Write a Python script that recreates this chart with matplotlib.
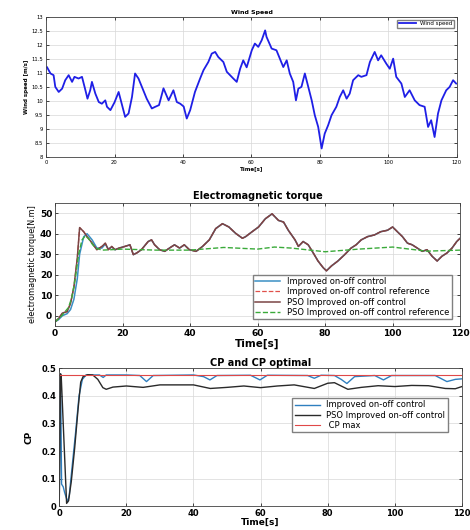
import numpy as np
import matplotlib
matplotlib.use('Agg')
import matplotlib.pyplot as plt

# ---- wind speed
t_wind = [0.3, 1.3, 2.2, 2.7, 3.7, 4.7, 5.6, 6.6, 7.6, 8.3, 9.5, 10.5, 11.5, 12.1, 12.9, 13.4,
          14.4, 15.4, 16.3, 17.3, 17.8, 18.8, 20.0, 21.2, 23.1, 24.1, 25.1, 26.0, 27.0, 28.0,
          29.4, 30.9, 31.9, 33.0, 34.3, 35.8, 37.2, 38.2, 39.2, 40.2, 41.1, 42.1, 43.5, 45.0,
          46.0, 47.4, 48.4, 49.4, 50.3, 51.8, 52.8, 54.7, 55.7, 56.7, 57.6, 58.6, 60.1, 61.0,
          62.0, 63.0, 64.0, 64.4, 65.9, 67.3, 68.3, 69.3, 70.3, 71.2, 72.2, 73.0, 73.7, 74.6,
          75.6, 76.6, 77.6, 78.5, 79.5, 80.5, 81.4, 82.4, 83.4, 84.8, 85.8, 86.8, 87.8, 88.7,
          89.7, 91.2, 92.1, 93.6, 94.6, 96.0, 97.0, 97.9, 99.4, 100.4, 101.4, 102.3, 103.8,
          104.8, 106.2, 107.7, 109.1, 110.6, 111.6, 112.5, 113.5, 114.5, 115.5, 116.9, 117.9,
          118.9, 119.8]
v_wind = [11.2, 10.98, 10.92, 10.5, 10.32, 10.44, 10.74, 10.92, 10.68, 10.86, 10.8, 10.86,
          10.38, 10.08, 10.38, 10.68, 10.26, 9.96, 9.9, 10.02, 9.79, 9.67, 9.95, 10.32, 9.43,
          9.55, 10.14, 10.98, 10.8, 10.5, 10.08, 9.73, 9.79, 9.85, 10.45, 10.02, 10.38, 9.96,
          9.9, 9.8, 9.37, 9.67, 10.32, 10.8, 11.1, 11.39, 11.69, 11.75, 11.57, 11.39, 11.04,
          10.8, 10.68, 11.15, 11.45, 11.2, 11.81, 12.05, 11.93, 12.17, 12.52, 12.29, 11.87,
          11.81, 11.51, 11.21, 11.45, 10.98, 10.68, 10.02, 10.44, 10.5, 10.98, 10.5, 10.02,
          9.49, 9.07, 8.3, 8.83, 9.13, 9.49, 9.79, 10.14, 10.38, 10.08, 10.26, 10.74, 10.92,
          10.86, 10.92, 11.39, 11.75, 11.45, 11.63, 11.33, 11.15, 11.51, 10.86, 10.62, 10.14,
          10.38, 10.02, 9.85, 9.79, 9.07, 9.31, 8.71, 9.55, 10.02, 10.38, 10.5, 10.74, 10.62]

# ---- electromagnetic torque
t_torque = [0, 1, 2.2, 3.6, 4.6, 5.6, 6.6, 7.3, 8.5, 9.5, 11, 12.4, 13.9, 14.9, 15.8, 16.8,
            17.8, 19, 20.7, 22.2, 23.2, 24.2, 25.6, 27.6, 28.6, 29.5, 31, 32.5, 33.9, 35.4,
            36.9, 38.3, 39.8, 41.8, 43.7, 45.7, 47.6, 49.6, 51.5, 53.5, 55.5, 56.4, 58.4,
            60.3, 62.3, 64.3, 66.2, 67.7, 69.1, 71.1, 72.1, 73.5, 75, 76.5, 77.9, 79.4, 80.4,
            81.9, 83.8, 85.8, 87.7, 89.2, 90.7, 92.6, 94.6, 96.5, 98.5, 100, 101.4, 102.9,
            104.4, 105.8, 107.3, 108.8, 110.2, 111.7, 113.2, 114.6, 116.1, 117.6, 119, 120]
torque_pso = [-3, -1.5, 1.3, 2, 6, 14, 28, 43, 41, 38.6, 35.4, 32.2, 33.8, 35.4, 32.2, 33.8,
              32.2, 33, 33.8, 34.6, 29.8, 30.6, 32.2, 36.2, 37, 34.6, 32.2, 31.4, 33, 34.6,
              33, 34.6, 32.2, 31.4, 33.8, 37, 42.5, 44.9, 43.3, 40.2, 37.8, 38.5, 41, 43.3,
              47.3, 49.7, 46.5, 45.7, 41.7, 37, 33.8, 36.2, 34.6, 30.6, 26.7, 23.5, 21.9,
              24.3, 26.7, 29.8, 33, 34.6, 37, 38.6, 39.4, 41, 41.7, 43.3, 41, 38.6, 35.4,
              34.6, 33, 31.4, 32.2, 29, 26.7, 29, 30.6, 33, 36.2, 37.8]
torque_imp = [-3, -2, 0, 1, 3, 8, 18, 30, 38.5, 40, 37, 33, 33, 35, 32.5, 33.5,
              32.2, 33, 33.8, 34.6, 29.8, 30.6, 32.2, 36.2, 37, 34.6, 32.2, 31.4, 33, 34.6,
              33, 34.6, 32.2, 31.4, 33.8, 37, 42.5, 44.9, 43.3, 40.2, 37.8, 38.5, 41, 43.3,
              47.3, 49.7, 46.5, 45.7, 41.7, 37, 33.8, 36.2, 34.6, 30.6, 26.7, 23.5, 21.9,
              24.3, 26.7, 29.8, 33, 34.6, 37, 38.6, 39.4, 41, 41.7, 43.3, 41, 38.6, 35.4,
              34.6, 33, 31.4, 32.2, 29, 26.7, 29, 30.6, 33, 36.2, 37.8]
t_ref_pso = [0, 2, 4, 5, 6, 7, 8, 9, 10, 11, 12, 14, 20, 30, 40, 50, 60, 65, 70, 80, 90,
             100, 110, 120]
torque_ref_pso = [-3, 0, 4, 9, 18, 30, 37, 39, 37.5, 35, 33, 32, 32.5, 32, 32, 33.3, 32.5,
                  33.5, 33, 31.2, 32.5, 33.5, 31.5, 32]

# ---- power coefficient
t_cp_imp = [0, 0.4, 0.7, 1.2, 1.6, 2.5, 3.0, 3.9, 4.9, 5.9, 6.9, 8, 10, 12, 13.1, 14, 20, 24,
            26, 28, 40, 43, 44.9, 47, 57, 59.8, 62, 74, 76, 78, 82, 84, 85.7, 88, 94, 96.6,
            99, 112, 115.5, 118, 120]
cp_imp = [0, 0.48, 0.08, 0.07, 0.05, 0.015, 0.04, 0.15, 0.27, 0.40, 0.46, 0.476, 0.476,
          0.476, 0.467, 0.476, 0.476, 0.474, 0.452, 0.474, 0.476, 0.47, 0.458, 0.474, 0.475,
          0.458, 0.475, 0.474, 0.464, 0.475, 0.474, 0.46, 0.445, 0.47, 0.474, 0.458, 0.474,
          0.474, 0.452, 0.46, 0.462]
t_cp_pso = [0, 0.4, 0.6, 2.2, 2.8, 3.6, 4.6, 5.6, 6.4, 7.1, 8.5, 10, 11.5, 13, 14, 16, 20,
            25, 30, 40, 45, 50, 55, 60, 65, 70, 76, 80, 82, 86, 90, 95, 100, 105, 110, 115,
            118, 120]
cp_pso = [0, 0.48, 0.47, 0.01, 0.02, 0.09, 0.21, 0.35, 0.45, 0.47, 0.477, 0.476, 0.46, 0.43,
          0.424, 0.432, 0.436, 0.431, 0.44, 0.44, 0.427, 0.431, 0.436, 0.43, 0.436, 0.44,
          0.427, 0.446, 0.448, 0.424, 0.431, 0.437, 0.434, 0.438, 0.437, 0.427, 0.426, 0.434]
t_cp_max = [0, 120]
cp_max = [0.476, 0.476]

time_ticks = [0, 20, 40, 60, 80, 100, 120]

fig = plt.figure(figsize=(4.7, 5.3), dpi=100)

def matlab_style(ax, fs):
	ax.grid(True, color='#d8d8d8', lw=0.5)
	ax.set_axisbelow(True)
	ax.tick_params(direction='in', top=True, right=True, labelsize=fs, length=2.5,
	               width=0.5, pad=2)
	for s in ax.spines.values():
		s.set_linewidth(0.6)
		s.set_color('#404040')

# wind speed
ax1 = fig.add_axes([0.098, 0.704, 0.874, 0.264])
ax1.plot(t_wind, v_wind, color='#1f1fe6', lw=1.3, label='Wind speed')
ax1.set_xlim(0, 120)
ax1.set_ylim(8, 13)
ax1.set_xticks(time_ticks)
ax1.set_yticks(np.arange(8, 13.01, 0.5))
ax1.set_yticklabels(['8', '8.5', '9', '9.5', '10', '10.5', '11', '11.5', '12', '12.5', '13'])
matlab_style(ax1, 3.8)
ax1.set_title('Wind Speed', fontsize=4.5, fontweight='bold', pad=2)
ax1.set_xlabel('Time[s]', fontsize=4, fontweight='bold', labelpad=1)
ax1.set_ylabel('Wind speed [m/s]', fontsize=4, fontweight='bold', labelpad=2)
ax1.legend(loc='upper right', fontsize=4, handlelength=3, borderpad=0.3,
           fancybox=False, edgecolor='#808080', framealpha=1)

# electromagnetic torque
ax2 = fig.add_axes([0.117, 0.385, 0.862, 0.232])
ax2.plot(t_torque, torque_imp, color='#3a8fc4', lw=1.1, label='Improved on-off control')
ax2.plot(t_torque, torque_pso, color='#e0504a', lw=0.9, ls='--',
         label='Improved on-off control reference')
ax2.plot(t_torque, torque_pso, color='#7a4545', lw=1.1, label='PSO Improved on-off control')
ax2.plot(t_ref_pso, torque_ref_pso, color='#3aaa3a', lw=1.0, ls='--',
         label='PSO Improved on-off control reference')
ax2.set_xlim(0, 120)
ax2.set_ylim(-5, 55)
ax2.set_xticks(time_ticks)
ax2.set_yticks([0, 10, 20, 30, 40, 50])
matlab_style(ax2, 6.5)
for lab in ax2.get_xticklabels() + ax2.get_yticklabels():
	lab.set_fontweight('bold')
ax2.set_title('Electromagnetic torque', fontsize=7, fontweight='bold', pad=3)
ax2.set_xlabel('Time[s]', fontsize=7.5, fontweight='bold', labelpad=1)
ax2.set_ylabel('electromagnetic torque[N.m]', fontsize=5.8, labelpad=2)
ax2.legend(loc='lower right', fontsize=6, handlelength=3, borderpad=0.3, labelspacing=0.15,
           fancybox=False, edgecolor='#808080', framealpha=1, bbox_to_anchor=(0.99, 0.02))

# CP
ax3 = fig.add_axes([0.126, 0.045, 0.857, 0.26])
ax3.plot(t_cp_imp, cp_imp, color='#2f7fbf', lw=1.0, label='Improved on-off control')
ax3.plot(t_cp_pso, cp_pso, color='#2a2a2a', lw=1.0, label='PSO Improved on-off control')
ax3.plot(t_cp_max, cp_max, color='#e04848', lw=0.8, label=' CP max')
ax3.set_xlim(0, 120)
ax3.set_ylim(0, 0.5)
ax3.set_xticks(time_ticks)
ax3.set_yticks([0, 0.1, 0.2, 0.3, 0.4, 0.5])
ax3.set_yticklabels(['0', '0.1', '0.2', '0.3', '0.4', '0.5'])
matlab_style(ax3, 6)
for lab in ax3.get_xticklabels() + ax3.get_yticklabels():
	lab.set_fontweight('bold')
ax3.set_title('CP and CP optimal', fontsize=7, fontweight='bold', pad=2)
ax3.set_xlabel('Time[s]', fontsize=6.5, fontweight='bold', labelpad=0)
ax3.set_ylabel('CP', fontsize=6.5, fontweight='bold', labelpad=6)
ax3.legend(loc='center right', fontsize=6, handlelength=3, borderpad=0.3, labelspacing=0.15,
           fancybox=False, edgecolor='#808080', framealpha=1, bbox_to_anchor=(0.975, 0.66))

fig.savefig('out.png', dpi=100)
